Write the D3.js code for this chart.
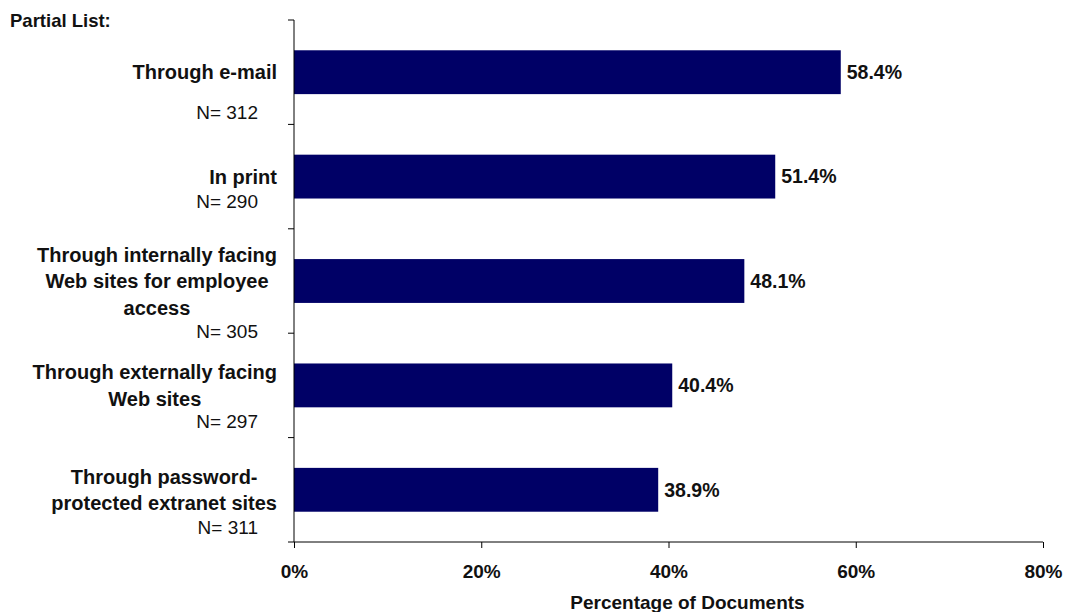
<!DOCTYPE html>
<html>
<head>
<meta charset="utf-8">
<script src="https://cdn.jsdelivr.net/npm/d3@7"></script>
<style>
  body { margin: 0; background: #fff; }
  svg { display: block; font-family: "Liberation Sans", Arial, sans-serif; }
</style>
</head>
<body>
<div id="chart"></div>
<script>
const categories = [
  ["Through e-mail"],
  ["In print"],
  ["Through internally facing", "Web sites for employee", "access"],
  ["Through externally facing", "Web sites"],
  ["Through password-", "protected extranet sites"],
];
const values = [58.4, 51.4, 48.1, 40.4, 38.9];
const sampleSizes = [312, 290, 305, 297, 311];
const xTicks = [0, 20, 40, 60, 80];

const width = 1065;
const height = 612;
const margin = { top: 20, right: 22, bottom: 70, left: 294 };

// gap between the last label line and the N= line
const nGap = [40, 25, 24, 23, 24];

const svg = d3
  .select("#chart")
  .append("svg")
  .attr("width", width)
  .attr("height", height);

const x = d3
  .scaleLinear()
  .domain([0, 80])
  .range([margin.left, width - margin.right]);

const y = d3
  .scaleBand()
  .domain(d3.range(values.length))
  .range([margin.top, height - margin.bottom])
  .paddingInner(0.58)
  .paddingOuter(0.29);

// bars
svg
  .append("g")
  .selectAll("rect")
  .data(values)
  .join("rect")
  .attr("x", x(0))
  .attr("y", (d, i) => y(i))
  .attr("width", (d) => x(d) - x(0))
  .attr("height", y.bandwidth())
  .attr("fill", "#000066");

// value labels
svg
  .append("g")
  .selectAll("text")
  .data(values)
  .join("text")
  .attr("x", (d) => x(d) + 6)
  .attr("y", (d, i) => y(i) + y.bandwidth() / 2)
  .attr("dy", "0.35em")
  .style("font-size", "19.5px")
  .style("font-weight", "bold")
  .style("fill", "#111")
  .text((d) => d.toFixed(1) + "%");

// x axis
const xAxis = svg
  .append("g")
  .attr("transform", `translate(0, ${height - margin.bottom})`)
  .call(
    d3
      .axisBottom(x)
      .tickValues(xTicks)
      .tickSize(6)
      .tickFormat((d) => d + "%")
  );
xAxis.select(".domain").attr("stroke", "#000").attr("d", `M${x(0)},0H${x(80)}`);
xAxis.selectAll(".tick line").attr("stroke", "#000").attr("y1", 0).attr("y2", 6);
xAxis
  .selectAll(".tick text")
  .attr("y", 23)
  .style("font-size", "19px")
  .style("font-weight", "bold")
  .style("fill", "#111");

svg
  .append("text")
  .attr("x", (x(0) + x(80)) / 2 + 19)
  .attr("y", 609)
  .attr("text-anchor", "middle")
  .style("font-size", "19px")
  .style("font-weight", "bold")
  .style("fill", "#111")
  .text("Percentage of Documents");

// y axis line with ticks at band boundaries
const bandStep = y.step();
const yTicks = d3.range(values.length + 1).map((i) => margin.top + i * bandStep);
svg
  .append("line")
  .attr("x1", x(0))
  .attr("x2", x(0))
  .attr("y1", margin.top)
  .attr("y2", height - margin.bottom)
  .attr("stroke", "#000");
svg
  .append("g")
  .selectAll("line")
  .data(yTicks)
  .join("line")
  .attr("x1", x(0) - 6)
  .attr("x2", x(0))
  .attr("y1", (d) => d)
  .attr("y2", (d) => d)
  .attr("stroke", "#000");

// category labels
const lineH = 26.5;
const labelRight = 277;
const labels = svg.append("g");
categories.forEach((lines, i) => {
  const cy = y(i) + y.bandwidth() / 2;
  const firstY = cy - ((lines.length - 1) * lineH) / 2;
  labels
    .append("text")
    .attr("class", "cat")
    .attr("text-anchor", "middle")
    .style("font-size", "20px")
    .style("font-weight", "bold")
    .style("fill", "#111")
    .selectAll("tspan")
    .data(lines)
    .join("tspan")
    .attr("y", (d, j) => firstY + j * lineH)
    .attr("dy", "0.35em")
    .text((d) => d);
  labels
    .append("text")
    .attr("x", 258)
    .attr("y", firstY + (lines.length - 1) * lineH + nGap[i])
    .attr("dy", "0.35em")
    .attr("text-anchor", "end")
    .style("font-size", "19px")
    .style("fill", "#111")
    .text("N= " + sampleSizes[i]);
});
// block is right-aligned, shorter lines centred within it
labels.selectAll("text.cat").each(function () {
  const spans = d3.select(this).selectAll("tspan");
  let maxW = 0;
  spans.each(function () { maxW = Math.max(maxW, this.getComputedTextLength()); });
  spans.attr("x", labelRight - maxW / 2);
});

svg
  .append("text")
  .attr("x", 10)
  .attr("y", 27)
  .style("font-size", "18.5px")
  .style("font-weight", "bold")
  .style("fill", "#111")
  .text("Partial List:");
</script>
</body>
</html>
